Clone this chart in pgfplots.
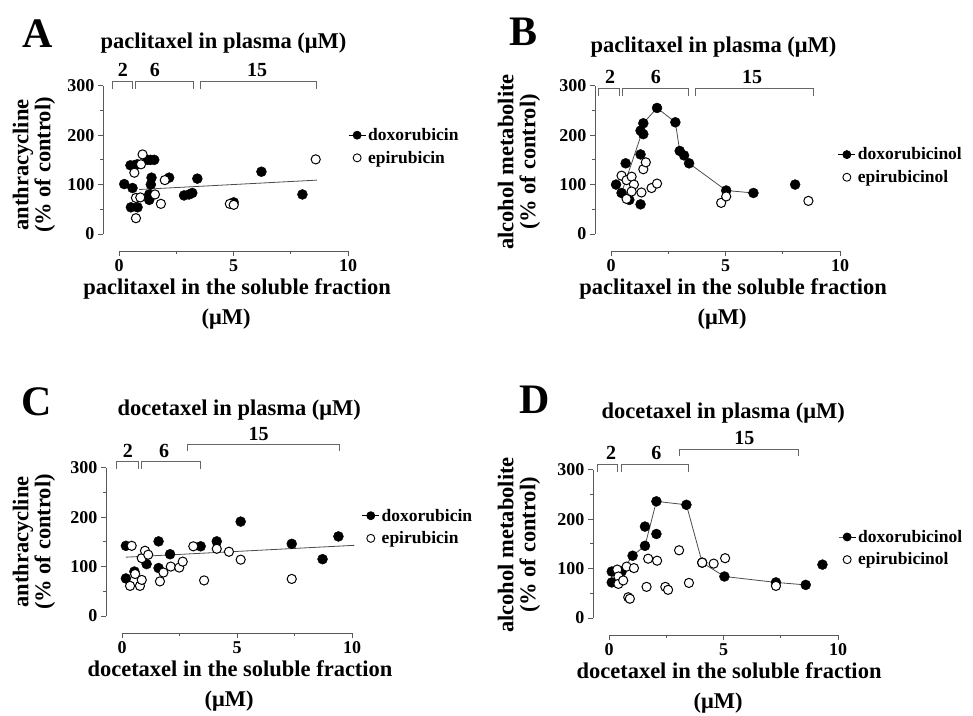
\documentclass[border=0pt]{standalone}
\usepackage{fontspec}
\setmainfont{Liberation Serif}
\usepackage{pgfplots}
\pgfplotsset{compat=1.18}
\begin{document}
\begin{tikzpicture}[x=1pt,y=1pt]
\path[use as bounding box] (0,0) rectangle (973,-715);
\pgfplotsset{
  panel/.style={scale only axis, width=229pt, height=148.3pt,
    xmin=0, xmax=10, ymin=0, ymax=300, axis lines=left,
    axis line style={-, line width=0.9pt, black!65},
    axis x line shift=17pt, axis y line shift=16pt, clip=false,
    xtick={0,5,10}, ytick={0,100,200,300},
    minor xtick={2.5,7.5}, minor ytick={50,150,250},
    tick align=outside, major tick length=5pt, minor tick length=3pt,
    tick style={line width=0.9pt, black!65},
    ticklabel style={font=\bfseries\fontsize{18}{18}\selectfont},
    /pgf/number format/assume math mode=true,
    legend style={draw=none, fill=none, anchor=west, inner sep=0pt,
      font=\bfseries\fontsize{17.5}{17.5}\selectfont, row sep=5pt},
    legend cell align=left},
  dox/.style={only marks, mark=*, mark size=5pt, mark options={fill=black, draw=black}, forget plot},
  epi/.style={only marks, mark=*, mark size=4.6pt, mark options={fill=white, draw=black, line width=1pt}, forget plot},
  fitline/.style={black!70, line width=0.8pt, no marks, forget plot},
}
\tikzset{brk/.style={black!60, line width=0.9pt}}
\def\lab{\bfseries\fontsize{22.5}{22}\selectfont}
\def\num{\bfseries\fontsize{20}{20}\selectfont}
\def\big{\bfseries\fontsize{42}{42}\selectfont}

% ---------- A ----------
\begin{axis}[panel, at={(119pt,-234pt)}, anchor=south west,
  legend style={at={(1.0,0.59)}}]
\addplot[dox] coordinates {(0.23,101) (0.59,93) (0.52,54) (0.81,54) (0.50,139) (0.67,139) (0.80,141)
  (1.25,150) (1.38,150) (1.54,150) (1.42,114) (1.39,100) (1.32,80) (1.32,69) (2.19,114)
  (2.84,78) (3.06,80) (3.20,83) (3.42,112) (5.01,64) (6.22,126) (8.01,80)};
\addplot[epi] coordinates {(1.03,161) (0.96,141) (0.67,124) (0.74,73) (0.93,74) (0.74,32)
  (1.57,80) (1.83,61) (2.00,109) (4.84,61) (5.01,59) (8.59,151)};
\addplot[fitline] coordinates {(0.88,90) (8.64,109)};
\addlegendimage{black, line width=0.8pt, mark=*, mark size=4pt}
\addlegendentry{doxorubicin}
\addlegendimage{only marks, mark=o, mark size=4pt, mark options={line width=0.9pt}}
\addlegendentry{epirubicin}
\draw[brk] (axis cs:-0.28,294) |- (axis cs:0.59,308) -- (axis cs:0.59,294);
\draw[brk] (axis cs:0.74,294) |- (axis cs:3.25,308) -- (axis cs:3.25,294);
\draw[brk] (axis cs:3.57,294) |- (axis cs:8.64,308) -- (axis cs:8.64,294);
\node[anchor=base, font=\num] at (axis cs:0.17,318) {2};
\node[anchor=base, font=\num] at (axis cs:1.57,318) {6};
\node[anchor=base, font=\num] at (axis cs:6.03,318) {15};
\end{axis}
\node[anchor=base west, font=\big] at (19,-47) {A};
\node[anchor=base west, font=\lab] at (97,-48) {paclitaxel in plasma (μM)};
\node[rotate=90, align=center, font=\lab] at (34,-165) {anthracycline\\(\% of control)};
\node[anchor=base, font=\lab] at (237,-294) {paclitaxel in the soluble fraction};
\node[anchor=base, font=\lab] at (226,-324) {(μM)};

% ---------- B ----------
\begin{axis}[panel, at={(611pt,-234pt)}, anchor=south west,
  legend style={at={(0.99,0.459)}}]
\addplot[fitline] coordinates {(0.46,83) (1.35,205) (1.41,224) (2.01,255) (2.81,226) (3.00,168)
  (3.19,159) (3.41,143) (5.03,88) (6.22,83)};
\addplot[dox] coordinates {(0.22,100) (0.46,83) (0.64,143) (0.80,69) (1.29,161) (1.29,60)
  (1.29,209) (1.41,202) (1.41,224) (2.01,255) (2.81,226) (3.00,168) (3.19,159) (3.41,143)
  (5.03,88) (6.22,83) (8.04,100)};
\addplot[epi] coordinates {(0.46,118) (0.68,109) (0.90,116) (1.00,100) (0.90,86) (0.68,71)
  (1.33,84) (1.41,131) (1.52,145) (1.77,93) (2.01,102) (4.81,63) (5.03,76) (8.62,67)};
\addlegendimage{black, line width=0.8pt, mark=*, mark size=4pt}
\addlegendentry{doxorubicinol}
\addlegendimage{only marks, mark=o, mark size=4pt, mark options={line width=0.9pt}}
\addlegendentry{epirubicinol}
\draw[brk] (axis cs:-0.57,280) |- (axis cs:0.35,294) -- (axis cs:0.35,280);
\draw[brk] (axis cs:0.52,280) |- (axis cs:3.40,294) -- (axis cs:3.40,280);
\draw[brk] (axis cs:3.67,280) |- (axis cs:8.82,294) -- (axis cs:8.82,280);
\node[anchor=base, font=\num] at (axis cs:-0.04,304) {2};
\node[anchor=base, font=\num] at (axis cs:1.96,304) {6};
\node[anchor=base, font=\num] at (axis cs:6.16,304) {15};
\end{axis}
\node[anchor=base west, font=\big] at (506,-45) {B};
\node[anchor=base west, font=\lab] at (587,-52) {paclitaxel in plasma (μM)};
\node[rotate=90, align=center, font=\lab] at (519,-162) {alcohol metabolite\\(\% of control)};
\node[anchor=base, font=\lab] at (733,-294) {paclitaxel in the soluble fraction};
\node[anchor=base, font=\lab] at (722,-324) {(μM)};

% ---------- C ----------
\begin{axis}[panel, at={(122pt,-616pt)}, anchor=south west, width=230pt,
  legend style={at={(1.042,0.60)}}]
\addplot[dox] coordinates {(0.17,142) (0.17,76) (0.54,90) (1.07,105) (1.59,151) (1.59,97)
  (2.09,125) (3.42,141) (4.12,151) (5.16,191) (7.38,146) (8.72,115) (9.41,161)};
\addplot[epi] coordinates {(0.42,142) (0.57,85) (0.35,61) (0.78,61) (0.86,73) (0.86,117)
  (1.00,132) (1.14,124) (1.65,70) (1.80,88) (2.12,100) (2.49,98) (2.64,110) (3.10,141)
  (3.57,72) (4.12,136) (4.65,130) (5.16,114) (7.38,75)};
\addplot[fitline] coordinates {(0.17,119) (10.1,143)};
\addlegendimage{black, line width=0.8pt, mark=*, mark size=4pt}
\addlegendentry{doxorubicin}
\addlegendimage{only marks, mark=o, mark size=4pt, mark options={line width=0.9pt}}
\addlegendentry{epirubicin}
\draw[brk] (axis cs:-0.22,298) |- (axis cs:0.70,312) -- (axis cs:0.70,298);
\draw[brk] (axis cs:0.85,298) |- (axis cs:3.42,312) -- (axis cs:3.42,298);
\draw[brk] (axis cs:2.83,334) |- (axis cs:9.45,348) -- (axis cs:9.45,334);
\node[anchor=base, font=\num] at (axis cs:0.25,320) {2};
\node[anchor=base, font=\num] at (axis cs:1.83,320) {6};
\node[anchor=base, font=\num] at (axis cs:5.94,356) {15};
\end{axis}
\node[anchor=base west, font=\big] at (18,-415) {C};
\node[anchor=base west, font=\lab] at (114,-415) {docetaxel in plasma (μM)};
\node[rotate=90, align=center, font=\lab] at (34,-542) {anthracycline\\(\% of control)};
\node[anchor=base, font=\lab] at (240,-676) {docetaxel in the soluble fraction};
\node[anchor=base, font=\lab] at (229,-706) {(μM)};

% ---------- D ----------
\begin{axis}[panel, at={(609pt,-618pt)}, anchor=south west,
  legend style={at={(1.0,0.47)}}]
\addplot[fitline] coordinates {(0.12,94) (0.55,94) (1.03,126) (1.57,146) (2.07,236) (3.38,229)
  (4.07,112) (5.04,84) (7.29,72) (8.59,67)};
\addplot[dox] coordinates {(0.12,94) (0.12,72) (0.55,94) (1.03,126) (1.57,185) (1.57,146)
  (2.07,236) (2.07,170) (3.38,229) (4.07,112) (5.04,84) (7.29,72) (8.59,67) (9.32,108)};
\addplot[epi] coordinates {(0.36,98) (0.41,84) (0.41,69) (0.62,76) (0.77,104) (1.09,101)
  (0.84,42) (0.91,39) (1.71,120) (2.10,116) (1.64,63) (2.46,63) (2.58,57) (3.06,137)
  (3.49,71) (4.07,112) (4.57,110) (5.07,121) (7.29,65)};
\addlegendimage{black, line width=0.8pt, mark=*, mark size=4pt}
\addlegendentry{doxorubicinol}
\addlegendimage{only marks, mark=o, mark size=4pt, mark options={line width=0.9pt}}
\addlegendentry{epirubicinol}
\draw[brk] (axis cs:-0.52,296) |- (axis cs:0.35,310) -- (axis cs:0.35,296);
\draw[brk] (axis cs:0.55,296) |- (axis cs:3.49,310) -- (axis cs:3.49,296);
\draw[brk] (axis cs:3.09,328) |- (axis cs:8.26,342) -- (axis cs:8.26,328);
\node[anchor=base, font=\num] at (axis cs:0.09,320) {2};
\node[anchor=base, font=\num] at (axis cs:2.07,320) {6};
\node[anchor=base, font=\num] at (axis cs:5.91,350) {15};
\end{axis}
\node[anchor=base west, font=\big] at (516,-413) {D};
\node[anchor=base west, font=\lab] at (598,-418) {docetaxel in plasma (μM)};
\node[rotate=90, align=center, font=\lab] at (519,-545) {alcohol metabolite\\(\% of control)};
\node[anchor=base, font=\lab] at (729,-678) {docetaxel in the soluble fraction};
\node[anchor=base, font=\lab] at (718,-708) {(μM)};
\end{tikzpicture}
\end{document}
